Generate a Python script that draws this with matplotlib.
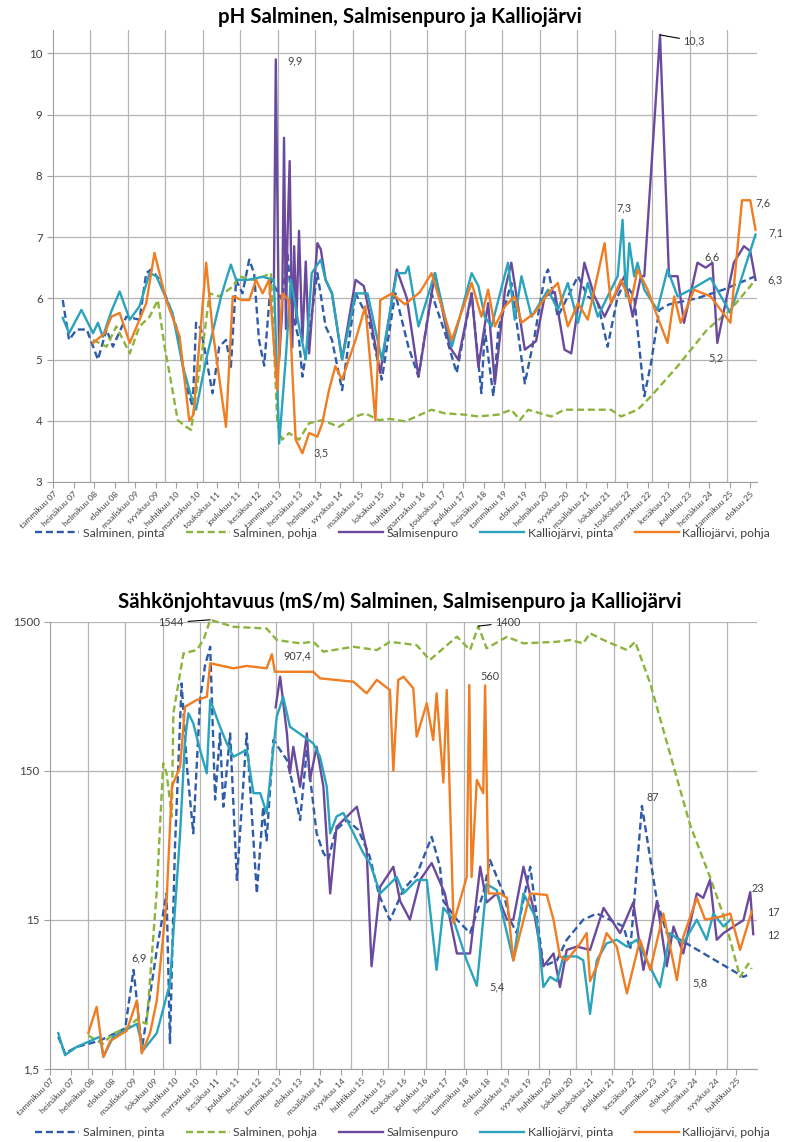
import matplotlib
matplotlib.use("Agg")
import matplotlib.pyplot as plt
import numpy as np

plt.rcParams['font.family'] = ['Lato', 'DejaVu Sans']

# --- x axis labels (Excel date axis, label step in days) ---
ph_ticklabels = ["tammikuu 07", "heinäkuu 07", "helmikuu 08", "elokuu 08", "maaliskuu 09", "syyskuu 09",
                 "huhtikuu 10", "marraskuu 10", "toukokuu 11", "joulukuu 11", "kesäkuu 12", "tammikuu 13",
                 "heinäkuu 13", "helmikuu 14", "syyskuu 14", "maaliskuu 15", "lokakuu 15", "huhtikuu 16",
                 "marraskuu 16", "toukokuu 17", "joulukuu 17", "heinäkuu 18", "tammikuu 19", "elokuu 19",
                 "helmikuu 20", "syyskuu 20", "maaliskuu 21", "lokakuu 21", "toukokuu 22", "marraskuu 22",
                 "kesäkuu 23", "joulukuu 23", "heinäkuu 24", "tammikuu 25", "elokuu 25"]
ec_ticklabels = ["tammikuu 07", "heinäkuu 07", "helmikuu 08", "elokuu 08", "maaliskuu 09", "lokakuu 09",
                 "huhtikuu 10", "marraskuu 10", "kesäkuu 11", "joulukuu 11", "heinäkuu 12", "tammikuu 13",
                 "elokuu 13", "maaliskuu 14", "syyskuu 14", "huhtikuu 15", "marraskuu 15", "toukokuu 16",
                 "joulukuu 16", "heinäkuu 17", "tammikuu 18", "elokuu 18", "maaliskuu 19", "syyskuu 19",
                 "huhtikuu 20", "lokakuu 20", "toukokuu 21", "joulukuu 21", "kesäkuu 22", "tammikuu 23",
                 "elokuu 23", "helmikuu 24", "syyskuu 24", "huhtikuu 25", "lokakuu 25"]
ph_step_days = 200
ec_step_days = 202

series_names = ["Salminen, pinta", "Salminen, pohja", "Salmisenpuro", "Kalliojärvi, pinta", "Kalliojärvi, pohja"]
series_colors = ["#2f5ca8", "#8cb43c", "#6b4a9e", "#2aa3bd", "#f07d21"]
series_dashed = [True, True, False, False, False]

# --- pH data (decimal year, pH) ---
ph_salminen_pinta = [
    (2007.26, 5.97), (2007.43, 5.32), (2007.63, 5.49), (2007.9, 5.49), (2008.2, 5.0), (2008.43, 5.49),
    (2008.6, 5.21), (2008.96, 5.7), (2009.31, 5.65), (2009.49, 6.41), (2009.62, 6.47), (2009.85, 6.3),
    (2010.11, 5.87), (2010.29, 5.54), (2010.56, 4.56), (2010.73, 4.23), (2010.82, 5.6), (2010.95, 5.5),
    (2011.26, 4.45), (2011.44, 5.21), (2011.62, 5.32), (2011.75, 4.88), (2011.89, 6.3), (2012.06, 6.08),
    (2012.24, 6.63), (2012.37, 6.41), (2012.5, 5.32), (2012.64, 4.9), (2012.82, 6.3), (2013.12, 5.97),
    (2013.26, 6.74), (2013.39, 5.76), (2013.57, 5.32), (2013.66, 4.72), (2013.84, 5.43), (2014.06, 6.41),
    (2014.28, 5.54), (2014.45, 5.32), (2014.72, 4.5), (2015.08, 6.08), (2015.43, 5.65), (2015.78, 4.67),
    (2016.14, 6.08), (2016.49, 5.21), (2016.76, 4.72), (2017.11, 6.08), (2017.47, 5.43), (2017.78, 4.78),
    (2018.18, 6.08), (2018.44, 4.45), (2018.53, 5.49), (2018.76, 4.4), (2018.89, 5.49), (2019.24, 6.25),
    (2019.6, 4.61), (2019.86, 5.38), (2020.13, 6.36), (2020.22, 6.47), (2020.48, 5.7), (2020.75, 6.03),
    (2021.02, 6.36), (2021.28, 6.03), (2021.55, 5.92), (2021.81, 5.21), (2022.08, 6.03), (2022.26, 6.25),
    (2022.52, 6.03), (2022.79, 4.4), (2022.97, 4.94), (2023.19, 5.81), (2023.45, 5.9), (2024.2, 6.0),
    (2024.9, 6.14), (2025.76, 6.36)]
ph_salminen_pohja = [
    (2008.07, 5.32), (2008.43, 5.21), (2008.69, 5.54), (2009.05, 5.1), (2009.31, 5.54), (2009.58, 5.7),
    (2009.8, 5.97), (2009.98, 5.21), (2010.11, 4.78), (2010.33, 4.01), (2010.56, 3.9), (2010.69, 3.85),
    (2010.82, 4.45), (2011.0, 5.21), (2011.18, 6.08), (2011.44, 6.03), (2011.8, 6.19), (2011.97, 6.36),
    (2012.3, 6.3), (2012.6, 6.35), (2012.82, 6.41), (2012.99, 3.96), (2013.12, 3.69), (2013.3, 3.8),
    (2013.57, 3.69), (2013.84, 3.96), (2014.19, 4.01), (2014.63, 3.9), (2015.08, 4.07), (2015.34, 4.12),
    (2015.7, 4.01), (2016.0, 4.03), (2016.41, 3.99), (2017.11, 4.18), (2017.47, 4.12), (2018.0, 4.1),
    (2018.36, 4.07), (2018.89, 4.1), (2019.24, 4.18), (2019.47, 4.01), (2019.69, 4.18), (2020.3, 4.07),
    (2020.66, 4.18), (2021.9, 4.18), (2022.17, 4.07), (2022.61, 4.18), (2022.97, 4.4), (2023.68, 4.89),
    (2024.47, 5.49), (2025.09, 5.81), (2025.76, 6.3)]
ph_salmisenpuro = [
    (2012.9, 6.3), (2012.95, 9.9), (2013.04, 5.0), (2013.12, 5.8), (2013.17, 8.62), (2013.22, 5.5),
    (2013.26, 6.96), (2013.32, 8.24), (2013.39, 5.2), (2013.44, 6.85), (2013.5, 5.6), (2013.57, 7.1),
    (2013.66, 5.3), (2013.75, 6.6), (2013.84, 5.1), (2013.95, 6.0), (2014.06, 6.9), (2014.15, 6.8),
    (2014.28, 6.3), (2014.45, 6.08), (2014.72, 5.0), (2015.08, 6.3), (2015.3, 6.2), (2015.5, 5.6),
    (2015.74, 4.78), (2016.18, 6.47), (2016.45, 6.0), (2016.76, 4.72), (2017.2, 6.41), (2017.6, 5.2),
    (2017.82, 5.0), (2018.18, 6.08), (2018.36, 4.88), (2018.62, 5.92), (2018.8, 4.6), (2019.07, 6.14),
    (2019.24, 6.58), (2019.6, 5.16), (2019.9, 5.3), (2020.13, 6.03), (2020.4, 6.1), (2020.66, 5.16),
    (2020.84, 5.1), (2021.19, 6.58), (2021.46, 6.03), (2021.73, 5.7), (2021.99, 6.03), (2022.26, 6.36),
    (2022.48, 5.7), (2022.7, 6.36), (2022.79, 6.36), (2023.21, 10.3), (2023.45, 6.36), (2023.68, 6.36),
    (2023.85, 5.6), (2024.21, 6.58), (2024.43, 6.5), (2024.61, 6.58), (2024.74, 5.27), (2025.18, 6.58),
    (2025.45, 6.85), (2025.62, 6.77), (2025.76, 6.3)]
ph_kalliojarvi_pinta = [
    (2007.26, 5.68), (2007.43, 5.43), (2007.76, 5.81), (2008.07, 5.43), (2008.2, 5.6), (2008.33, 5.37),
    (2008.56, 5.79), (2008.78, 6.11), (2009.05, 5.65), (2009.31, 5.87), (2009.58, 6.41), (2009.76, 6.36),
    (2010.19, 5.76), (2010.47, 4.88), (2010.69, 4.4), (2010.82, 4.18), (2011.09, 5.0), (2011.49, 6.03),
    (2011.62, 6.3), (2011.75, 6.55), (2011.89, 6.3), (2012.2, 6.3), (2012.6, 6.35), (2012.9, 6.3),
    (2013.04, 3.63), (2013.22, 5.05), (2013.35, 6.3), (2013.57, 5.54), (2013.75, 5.0), (2013.91, 6.41),
    (2014.15, 6.63), (2014.28, 6.3), (2014.45, 6.08), (2014.72, 5.0), (2015.08, 6.08), (2015.4, 6.08),
    (2015.78, 5.0), (2016.18, 6.41), (2016.41, 6.41), (2016.49, 6.52), (2016.76, 5.54), (2017.2, 6.41),
    (2017.65, 5.21), (2018.18, 6.41), (2018.36, 6.2), (2018.53, 5.7), (2018.71, 5.54), (2019.15, 6.58),
    (2019.33, 5.65), (2019.51, 6.36), (2019.78, 5.7), (2020.22, 6.14), (2020.48, 5.81), (2020.75, 6.25),
    (2021.02, 5.6), (2021.28, 6.25), (2021.55, 5.7), (2021.81, 6.03), (2022.08, 6.36), (2022.21, 7.28),
    (2022.3, 6.03), (2022.39, 6.9), (2022.52, 6.36), (2022.61, 6.58), (2022.79, 6.14), (2023.14, 5.81),
    (2023.41, 6.47), (2023.68, 6.03), (2024.03, 6.14), (2024.56, 6.33), (2025.09, 5.76), (2025.76, 7.04)]
ph_kalliojarvi_pohja = [
    (2008.07, 5.27), (2008.38, 5.43), (2008.56, 5.7), (2008.78, 5.76), (2009.05, 5.27), (2009.31, 5.65),
    (2009.49, 5.92), (2009.71, 6.74), (2010.02, 5.97), (2010.38, 5.38), (2010.64, 4.0), (2010.75, 4.1),
    (2011.09, 6.58), (2011.26, 5.49), (2011.62, 3.9), (2011.8, 6.03), (2012.06, 5.97), (2012.24, 5.97),
    (2012.42, 6.3), (2012.6, 6.08), (2012.77, 6.3), (2012.99, 4.5), (2013.12, 6.08), (2013.3, 5.97),
    (2013.48, 3.69), (2013.66, 3.47), (2013.84, 3.8), (2014.06, 3.74), (2014.19, 3.96), (2014.37, 4.5),
    (2014.54, 4.89), (2014.72, 4.67), (2014.9, 5.0), (2015.08, 5.32), (2015.34, 5.87), (2015.61, 4.01),
    (2015.74, 5.97), (2016.05, 6.08), (2016.4, 5.9), (2016.8, 6.1), (2017.11, 6.41), (2017.65, 5.32),
    (2018.18, 6.25), (2018.44, 5.7), (2018.62, 6.14), (2018.8, 5.54), (2019.07, 5.87), (2019.33, 6.03),
    (2019.51, 5.6), (2019.86, 5.76), (2020.22, 6.08), (2020.48, 6.25), (2020.75, 5.54), (2021.02, 5.92),
    (2021.28, 5.65), (2021.73, 6.9), (2021.9, 5.92), (2022.17, 6.3), (2022.43, 5.92), (2022.61, 6.47),
    (2022.88, 6.14), (2023.14, 5.7), (2023.41, 5.27), (2023.59, 6.03), (2023.76, 5.6), (2024.12, 6.14),
    (2024.56, 6.03), (2025.09, 5.6), (2025.4, 7.6), (2025.62, 7.6), (2025.76, 7.12)]

# --- conductivity data (decimal year, mS/m) ---
ec_salminen_pinta = [
    (2007.22, 2.46), (2007.4, 1.9), (2007.71, 2.1), (2008.3, 2.3), (2008.6, 2.5), (2009.0, 2.8),
    (2009.22, 6.9), (2009.31, 4.3), (2009.44, 2.0), (2009.84, 9.4), (2010.1, 22.5), (2010.19, 2.2),
    (2010.32, 44), (2010.5, 578), (2010.64, 160), (2010.81, 57), (2010.99, 447), (2011.12, 757),
    (2011.26, 1018), (2011.39, 96), (2011.52, 267), (2011.61, 86), (2011.79, 267), (2011.97, 27.7),
    (2012.23, 267), (2012.5, 22.5), (2012.67, 86), (2012.76, 51), (2012.94, 241), (2013.3, 177),
    (2013.47, 117), (2013.65, 70), (2013.83, 207), (2014.09, 57), (2014.27, 42), (2014.4, 38),
    (2014.6, 60), (2014.9, 70), (2015.2, 60), (2015.5, 40), (2015.75, 22), (2016.04, 14.9), (2016.4, 24),
    (2016.75, 30), (2017.15, 54), (2017.37, 34), (2017.46, 20), (2017.82, 15), (2018.17, 12.2),
    (2018.52, 22.5), (2018.7, 37.8), (2019.06, 22.5), (2019.23, 15), (2019.41, 12.2), (2019.77, 34),
    (2020.12, 7.3), (2020.48, 8), (2020.74, 11), (2021.18, 15), (2021.54, 16.5), (2021.89, 15),
    (2022.25, 13.5), (2022.43, 9.4), (2022.74, 87), (2023.14, 20), (2023.4, 12.2), (2023.76, 11),
    (2025.44, 6.2), (2025.62, 6.5)]
ec_salminen_pohja = [
    (2008.02, 2.5), (2008.4, 2.2), (2008.7, 2.6), (2009.04, 2.8), (2009.3, 3.2), (2009.57, 3.0),
    (2009.84, 23.7), (2010.01, 168), (2010.1, 144), (2010.24, 74), (2010.28, 364), (2010.55, 920),
    (2010.9, 968), (2011.08, 1130), (2011.26, 1544), (2011.88, 1387), (2012.76, 1350), (2013.03, 1130),
    (2013.65, 1074), (2014.0, 1100), (2014.27, 944), (2015.07, 1018), (2015.69, 968), (2016.04, 1100),
    (2016.75, 1044), (2017.1, 830), (2017.82, 1190), (2018.17, 968), (2018.39, 1400), (2018.61, 994),
    (2019.15, 1187), (2019.59, 1074), (2020.48, 1100), (2020.83, 1130), (2021.18, 1074), (2021.36, 1255),
    (2021.72, 1130), (2022.34, 968), (2022.56, 1100), (2022.96, 578), (2023.58, 161), (2024.02, 65),
    (2024.55, 29), (2024.91, 16), (2025.35, 6.2), (2025.57, 7.6), (2025.66, 7.0)]
ec_salmisenpuro = [
    (2013.0, 400), (2013.12, 641), (2013.3, 267), (2013.38, 144), (2013.47, 217), (2013.65, 117),
    (2013.83, 267), (2013.91, 130), (2014.09, 217), (2014.27, 117), (2014.45, 22.5), (2014.62, 63),
    (2015.16, 86), (2015.42, 44), (2015.55, 7.3), (2015.78, 25), (2016.13, 34), (2016.31, 20),
    (2016.57, 15), (2016.84, 27.7), (2017.15, 36), (2017.5, 22.5), (2017.82, 8.9), (2018.17, 8.9),
    (2018.44, 34), (2018.61, 19.6), (2018.88, 22.5), (2019.15, 15), (2019.32, 15), (2019.59, 34),
    (2019.85, 18), (2020.12, 7.3), (2020.39, 8.9), (2020.56, 5.3), (2020.74, 9.4), (2021.01, 9.9),
    (2021.36, 9.4), (2021.72, 18), (2022.16, 12.2), (2022.51, 19.6), (2022.78, 6.9), (2023.14, 20),
    (2023.4, 7.3), (2023.58, 13.5), (2023.84, 8.9), (2024.2, 22.5), (2024.37, 21), (2024.55, 27.7),
    (2024.73, 11), (2024.91, 12.2), (2025.44, 14.9), (2025.62, 23), (2025.7, 12)]
ec_kalliojarvi_pinta = [
    (2007.22, 2.6), (2007.4, 1.85), (2007.71, 2.1), (2008.33, 2.46), (2008.42, 1.8), (2008.68, 2.46),
    (2009.31, 3.0), (2009.48, 2.0), (2009.84, 2.6), (2010.19, 5.6), (2010.28, 12.2), (2010.46, 57),
    (2010.59, 241), (2010.68, 364), (2010.81, 312), (2010.99, 207), (2011.17, 144), (2011.26, 447),
    (2011.52, 296), (2011.7, 229), (2011.88, 186), (2012.05, 196), (2012.23, 207), (2012.41, 106),
    (2012.59, 106), (2012.76, 78), (2012.85, 130), (2013.03, 346), (2013.2, 470), (2013.38, 296),
    (2014.0, 229), (2014.18, 186), (2014.36, 117), (2014.45, 57), (2014.62, 74), (2014.8, 78),
    (2015.07, 57), (2015.33, 42), (2015.51, 35.8), (2015.78, 22.5), (2016.22, 29), (2016.4, 22.5),
    (2016.75, 27.7), (2017.02, 27.7), (2017.28, 6.9), (2017.46, 18), (2017.73, 15), (2018.08, 8),
    (2018.35, 5.4), (2018.61, 26), (2018.88, 23.7), (2019.15, 12.2), (2019.32, 8), (2019.59, 22.5),
    (2019.94, 15), (2020.12, 5.3), (2020.3, 6.2), (2020.48, 5.8), (2020.65, 8.5), (2021.01, 8.5),
    (2021.18, 8), (2021.36, 3.5), (2021.54, 8), (2021.8, 10.4), (2022.07, 11), (2022.34, 9.9),
    (2022.6, 11), (2022.87, 8), (2023.22, 5.3), (2023.49, 12.2), (2023.84, 10.4), (2024.2, 15),
    (2024.46, 11), (2024.64, 16.5), (2024.91, 13.5), (2025.09, 15)]
ec_kalliojarvi_pohja = [
    (2008.02, 2.6), (2008.24, 3.9), (2008.42, 1.8), (2008.6, 2.3), (2009.04, 2.7), (2009.31, 4.3),
    (2009.44, 1.9), (2009.66, 2.6), (2009.84, 4.3), (2010.1, 20), (2010.24, 117), (2010.46, 160),
    (2010.59, 403), (2010.9, 447), (2011.17, 470), (2011.26, 789), (2011.88, 730), (2012.23, 757),
    (2012.76, 730), (2012.9, 907.4), (2012.98, 692), (2014.0, 692), (2014.18, 625), (2015.07, 593),
    (2015.42, 496), (2015.69, 610), (2016.04, 522), (2016.13, 150), (2016.26, 610), (2016.4, 641),
    (2016.66, 536), (2016.75, 254), (2017.02, 425), (2017.19, 241), (2017.28, 496), (2017.46, 125),
    (2017.55, 522), (2017.73, 14.2), (2018.08, 29), (2018.15, 564), (2018.21, 29), (2018.35, 130),
    (2018.52, 106), (2018.57, 560), (2018.66, 22.5), (2018.97, 22.5), (2019.15, 21), (2019.32, 8),
    (2019.77, 22.5), (2020.21, 22), (2020.39, 15), (2020.56, 8.5), (2020.74, 8), (2021.1, 10.4),
    (2021.27, 12.2), (2021.36, 5.8), (2021.54, 7.3), (2021.8, 12.2), (2022.07, 9.9), (2022.34, 4.8),
    (2022.69, 11), (2022.96, 6.9), (2023.31, 16.5), (2023.67, 5.9), (2023.84, 11.5), (2024.2, 21),
    (2024.42, 15), (2024.82, 15.7), (2025.09, 16.5), (2025.35, 9.4), (2025.66, 17)]

ph_data = [ph_salminen_pinta, ph_salminen_pohja, ph_salmisenpuro, ph_kalliojarvi_pinta, ph_kalliojarvi_pohja]
ec_data = [ec_salminen_pinta, ec_salminen_pohja, ec_salmisenpuro, ec_kalliojarvi_pinta, ec_kalliojarvi_pohja]

# value labels: text, x, y, anchor, leader point (or None)
ph_notes = [("9,9", 2013.26, 9.87, 'left', None), ("10,3", 2023.84, 10.2, 'left', (2023.21, 10.3)),
            ("7,3", 2022.26, 7.48, 'center', None), ("6,6", 2024.61, 6.68, 'center', None),
            ("5,2", 2024.7, 5.02, 'center', None), ("7,6", 2025.75, 7.56, 'left', None),
            ("7,1", 2026.11, 7.07, 'left', None), ("6,3", 2026.07, 6.3, 'left', None),
            ("3,5", 2013.95, 3.47, 'left', None)]
ec_notes = [("1544", 2010.56, 1480, 'right', (2011.26, 1544)), ("907,4", 2013.2, 883, 'left', None),
            ("6,9", 2009.17, 8.3, 'left', None), ("1400", 2018.84, 1480, 'left', (2018.39, 1400)),
            ("560", 2018.44, 648, 'left', None), ("87", 2022.87, 99, 'left', None),
            ("23", 2025.66, 24.4, 'left', None), ("17", 2026.06, 16.8, 'left', None),
            ("12", 2026.06, 11.8, 'left', None), ("5,8", 2024.07, 5.66, 'left', None),
            ("5,4", 2018.68, 5.32, 'left', None)]

TXT = '#404040'
GRID = '#b4b4b4'


def draw_panel(ax, data, ticklabels, step_days, notes):
    for pts, name, col, dash in zip(data, series_names, series_colors, series_dashed):
        t = [p[0] for p in pts]
        v = [p[1] for p in pts]
        line, = ax.plot(t, v, color=col, lw=1.7, label=name, clip_on=False)
        if dash:
            line.set_dashes([3.0, 1.6])
    ticks = [2007 + k * step_days / 365.25 for k in range(len(ticklabels))]
    ax.set_xticks(ticks)
    ax.set_xticklabels(ticklabels, rotation=45, ha='right', rotation_mode='anchor', fontsize=6.1, color=TXT)
    ax.set_xticks(np.arange(2008, 2026), minor=True)
    ax.set_xlim(2007.0, 2025.8)
    ax.grid(True, axis='x', which='minor', color=GRID, lw=0.9)
    ax.grid(True, axis='y', which='major', color=GRID, lw=0.9)
    ax.tick_params(axis='x', which='minor', length=0)
    ax.tick_params(axis='both', which='major', length=4, color='#a0a0a0', labelcolor=TXT)
    ax.tick_params(axis='x', pad=2)
    ax.tick_params(axis='y', labelsize=8.3)
    for s in ['top', 'right']:
        ax.spines[s].set_visible(False)
    for s in ['left', 'bottom']:
        ax.spines[s].set_color('#a0a0a0')
    ax.set_axisbelow(True)
    for txt, x, y, ha, lead in notes:
        if lead is None:
            ax.text(x, y, txt, ha=ha, va='center', fontsize=7.8, color=TXT, clip_on=False)
        else:
            ax.annotate(txt, xy=lead, xytext=(x, y), ha=ha, va='center', fontsize=7.8, color=TXT,
                        arrowprops=dict(arrowstyle='-', color='black', lw=0.8, shrinkA=1, shrinkB=0),
                        annotation_clip=False)


fig = plt.figure(figsize=(7.9, 11.42), dpi=100)

ax1 = fig.add_axes([53 / 790, 1 - 482 / 1142, (757 - 53) / 790, (482 - 30) / 1142])
draw_panel(ax1, ph_data, ph_ticklabels, ph_step_days, ph_notes)
ax1.set_ylim(3, 10.38)
ax1.set_yticks(range(3, 11))
ax1.set_yticklabels([str(i) for i in range(3, 11)])

ax2 = fig.add_axes([50 / 790, 1 - 1068.7 / 1142, (757 - 50) / 790, (1068.7 - 621.7) / 1142])
draw_panel(ax2, ec_data, ec_ticklabels, ec_step_days, ec_notes)
ax2.set_yscale('log')
ax2.set_ylim(1.5, 1500)
ax2.set_yticks([1.5, 15, 150, 1500])
ax2.set_yticklabels(["1,5", "15", "150", "1500"])
ax2.yaxis.set_minor_locator(matplotlib.ticker.NullLocator())

fig.text(0.506, 1 - 17 / 1142, "pH Salminen, Salmisenpuro ja Kalliojärvi", ha='center', va='center',
         fontsize=14.7, fontweight='bold', color='black')
fig.text(0.506, 1 - 602 / 1142, "Sähkönjohtavuus (mS/m) Salminen, Salmisenpuro ja Kalliojärvi",
         ha='center', va='center', fontsize=14.7, fontweight='bold', color='black')

for ax, ypix in [(ax1, 533), (ax2, 1133)]:
    ax.legend(loc='center', bbox_to_anchor=(30 / 790, 1 - ypix / 1142, 745 / 790, 0), mode='expand',
              bbox_transform=fig.transFigure, ncol=5, frameon=False, handlelength=3.6, handletextpad=0.3,
              fontsize=8.8, labelcolor=TXT, borderaxespad=0)

fig.savefig("out.png", dpi=100)
